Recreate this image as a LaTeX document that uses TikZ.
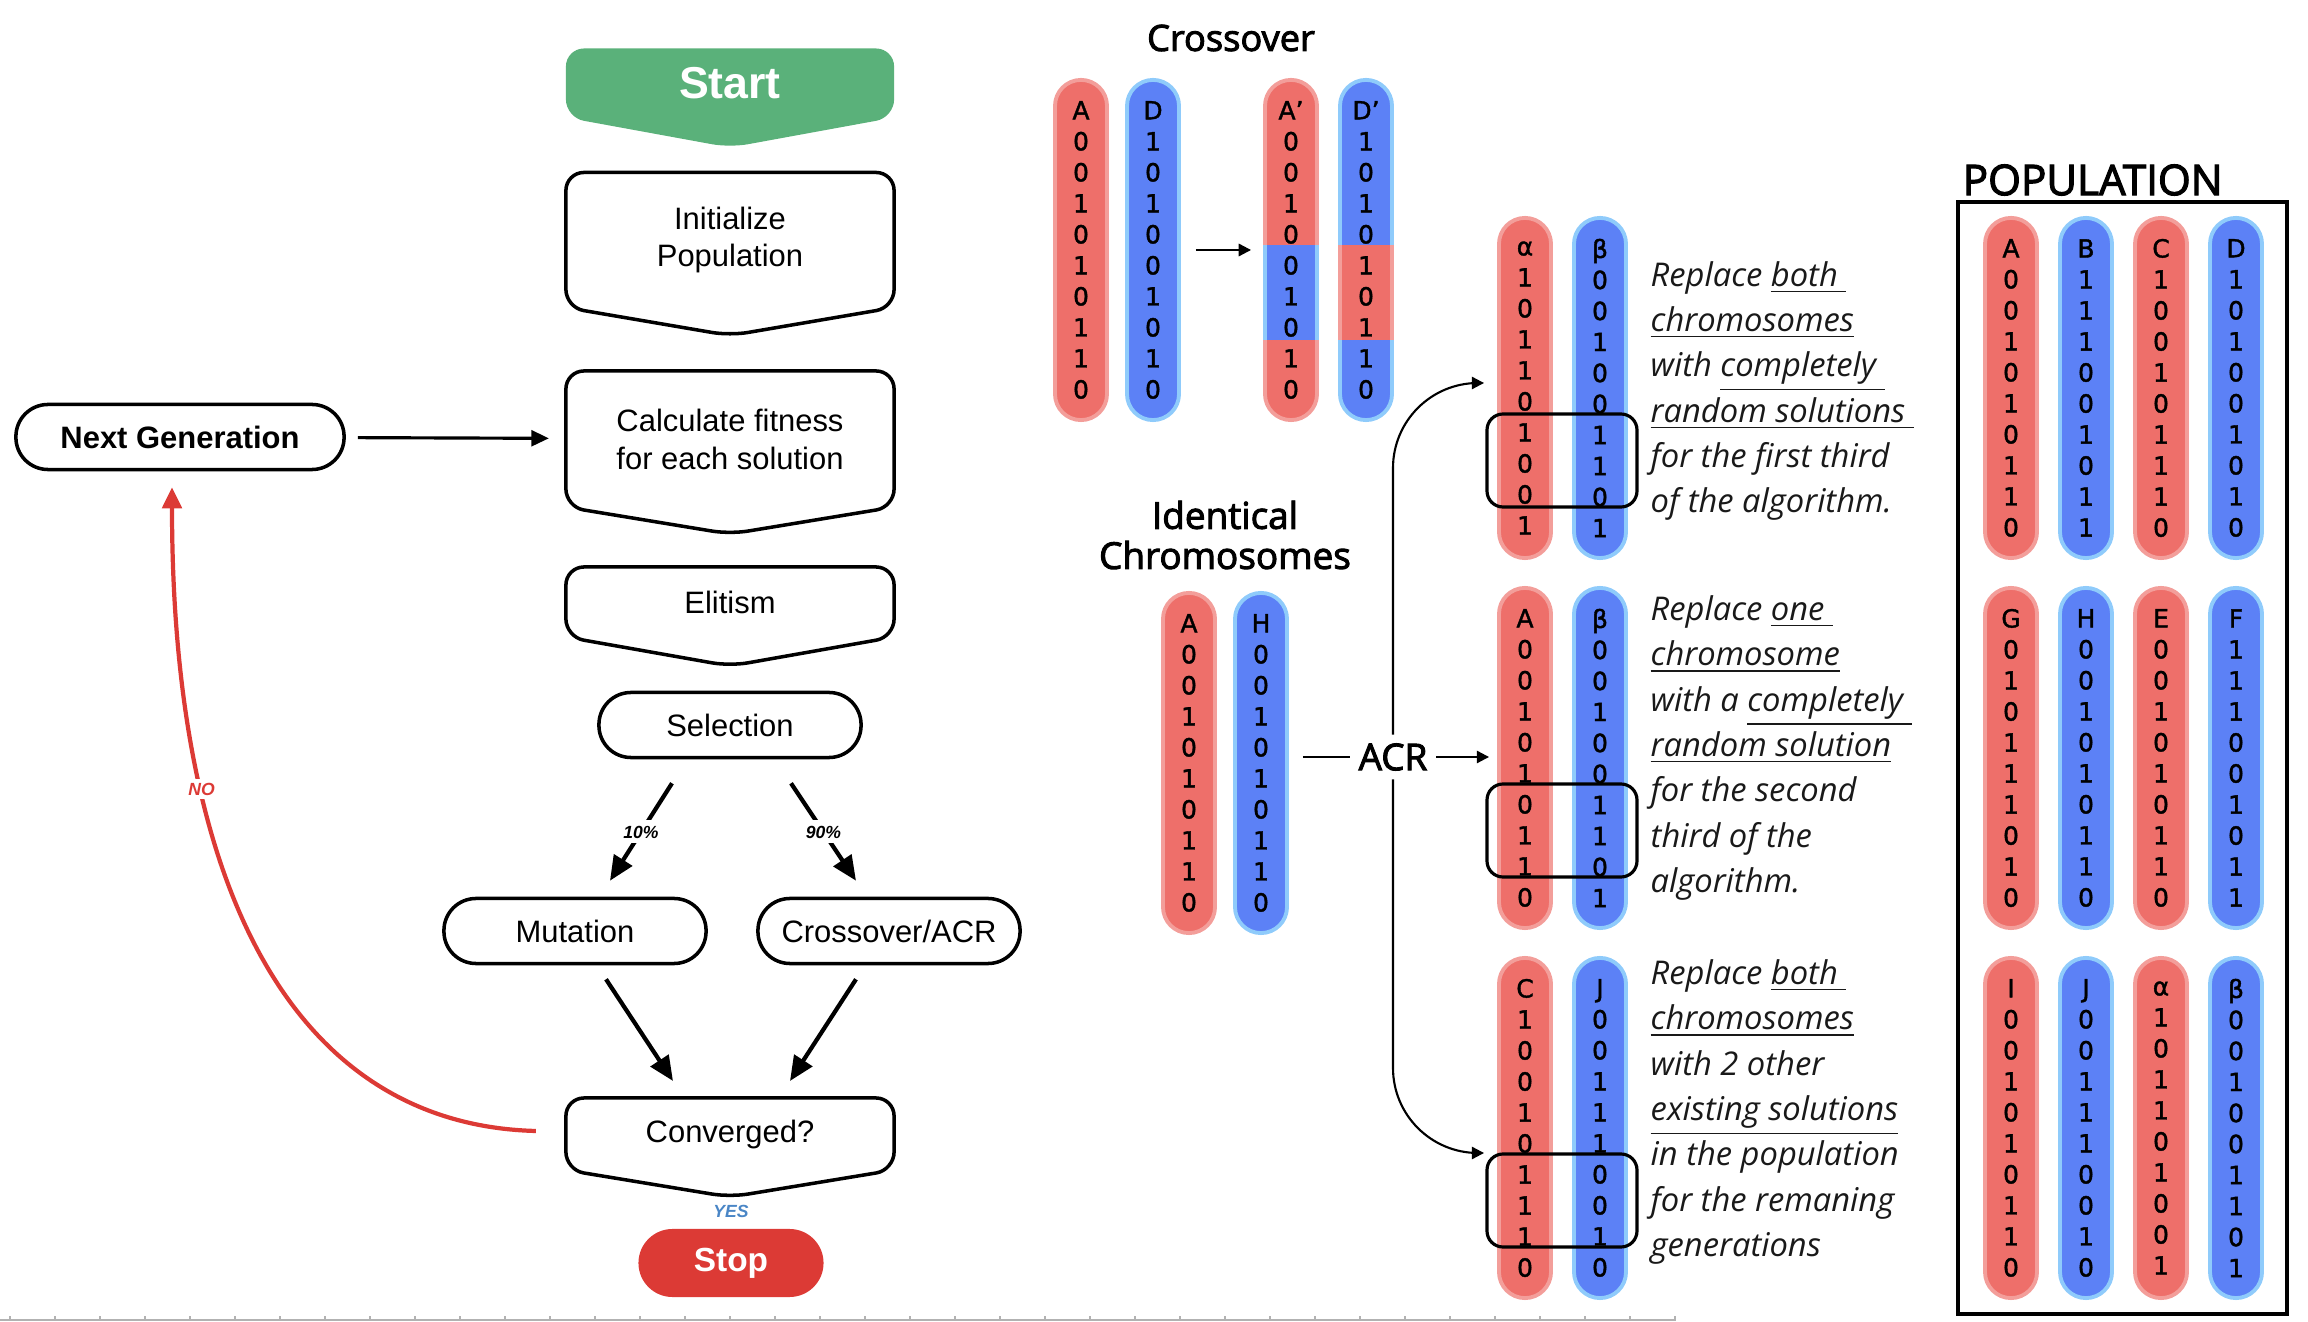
\documentclass[tikz,border=0pt]{standalone}
\usepackage{fontspec}
\setmainfont{Liberation Sans}
\newfontfamily\chromfont[FakeBold=1.5]{DejaVu Sans}
\newfontfamily\headfont[FakeBold=2.6]{Open Sans}
\newfontfamily\notefont{Open Sans}
\usetikzlibrary{arrows.meta,calc,backgrounds}
\definecolor{chromred}{HTML}{EE6F6A}
\definecolor{chromredrim}{HTML}{F39E9A}
\definecolor{chromblue}{HTML}{5C81F6}
\definecolor{chrombluerim}{HTML}{8FCBFB}
\definecolor{startgreen}{HTML}{5AB17A}
\definecolor{stopred}{HTML}{DC3A35}
\definecolor{yesblue}{HTML}{4A86C6}
\newcommand{\genedigits}[9]{#1\\#2\\#3\\#4\\#5\\#6\\#7\\#8\\#9}
\newcommand{\genes}[2]{#1\\\genedigits#2}
\newcommand{\downbox}[3]{\path[#3,rounded corners=0.18cm]
	(#1.north)--(#1.north east)--(#1.south east)--($(#1.south)+(0,#2)$)--
	(#1.south west)--(#1.north west)--cycle;}
\tikzset{
	boxnode/.style={minimum width=3.28cm, inner sep=0pt, outer sep=0pt, align=center,
		font=\fontsize{8.8}{10.8}\selectfont},
	pill/.style={draw, line width=1pt, rounded corners=0.32cm, minimum width=2.62cm,
		minimum height=0.65cm, inner sep=0pt, align=center, font=\fontsize{8.8}{10.8}\selectfont},
	chrom/.style={minimum width=0.52cm, minimum height=3.40cm, rounded corners=0.26cm,
		line width=1.1pt, inner sep=0pt, align=center, font=\chromfont\fontsize{7.1}{8.82}\selectfont},
	redchrom/.style={chrom, fill=chromred, draw=chromredrim},
	bluechrom/.style={chrom, fill=chromblue, draw=chrombluerim},
	flowarrow/.style={line width=1.2pt, -{Triangle[length=7pt,width=6pt]}},
	thinarrow/.style={line width=0.6pt, -{Triangle[length=3.5pt,width=3.5pt]}},
	pct/.style={fill=white, inner sep=1.5pt, font=\bfseries\itshape\fontsize{5}{6}\selectfont},
	cutbox/.style={draw, line width=0.9pt, rounded corners=0.16cm},
	heading/.style={font=\headfont\fontsize{10.3}{11.4}\selectfont},
	note/.style={anchor=west, align=left, inner sep=0pt, text=black!90,
		font=\notefont\itshape\fontsize{9.3}{12.9}\selectfont},
}
\begin{document}
\begin{tikzpicture}[x=0.01cm,y=-0.01cm]
	\useasboundingbox (0,0) rectangle (2308,1322);

	% flow chart
	\node[boxnode, minimum height=0.69cm, text=white, font=\bfseries\fontsize{12.7}{14}\selectfont]
		at (730,83)(start){Start};
	\node[boxnode, minimum height=1.35cm] at (730,240)(init){Initialize\\Population};
	\node[boxnode, minimum height=1.36cm] at (730,439)(calc){Calculate fitness\\for each solution};
	\node[boxnode, minimum height=0.70cm] at (730,602)(elit){Elitism};
	\node[pill] at (730,725)(sel){Selection};
	\node[pill] at (575,931)(mut){Mutation};
	\node[pill] at (889,931)(cross){Crossover/ACR};
	\node[boxnode, minimum height=0.72cm] at (730,1134)(conv){Converged?};
	\node[text=yesblue, font=\bfseries\itshape\fontsize{5}{6}\selectfont] at (731,1211)(yes){YES};
	\node[pill, draw=none, fill=stopred, minimum width=1.85cm, minimum height=0.68cm,
		rounded corners=0.34cm, text=white, font=\bfseries\fontsize{9.5}{11}\selectfont]
		at (731,1263)(stop){Stop};
	\node[pill, minimum width=3.28cm, font=\bfseries\fontsize{8.8}{10}\selectfont]
		at (180,437)(nextgen){Next Generation};
	\begin{scope}[on background layer]
		\downbox{start}{30}{fill=startgreen}
	\end{scope}
	\downbox{init}{28}{draw,line width=1pt}
	\downbox{calc}{27}{draw,line width=1pt}
	\downbox{elit}{29}{draw,line width=1pt}
	\downbox{conv}{27}{draw,line width=1pt}
	\path[flowarrow]
		($(sel.south)+(-58,24)$) edge node[pct]{10\%} ($(mut.north)+(35,-16)$)
		($(sel.south)+(61,24)$) edge node[pct]{90\%} ($(cross.north)+(-33,-16)$)
		($(mut.south)+(31,14)$) edge ($(conv.north)+(-57,-17)$)
		($(cross.south)+(-33,14)$) edge ($(conv.north)+(60,-17)$);
	\path[line width=0.9pt, -{Triangle[length=5pt,width=4.5pt]}]
		(nextgen) edge[shorten <=0.12cm, shorten >=0.17cm] (calc);
	\draw[stopred, line width=1.2pt, -{Triangle[length=6pt,width=5.5pt]}]
		($(conv.west)+(-30,-3)$) .. controls (300,1125) and (172,900) ..
		node[pos=0.72, fill=white, inner sep=1pt, text=stopred,
			font=\bfseries\itshape\fontsize{5}{6}\selectfont]{NO}
		($(nextgen.south)+(-8,16)$);

	% crossover
	\node[heading] at (1231,38)(xtitle){Crossover};
	\node[redchrom] at (1081,250)(xa){\genes{A}{001010110}};
	\node[bluechrom] at (1153,250)(xd){\genes{D}{101001010}};
	\node[redchrom] at (1291,250)(xa2){};
	\node[bluechrom] at (1366,250)(xd2){};
	\fill[chrombluerim] (xa2.west |- 0,245) rectangle (xa2.east |- 0,340);
	\fill[chromblue] ($(xa2.west |- 0,245)+(4,0)$) rectangle ($(xa2.east |- 0,340)+(-4,0)$);
	\fill[chromredrim] (xd2.west |- 0,245) rectangle (xd2.east |- 0,340);
	\fill[chromred] ($(xd2.west |- 0,245)+(4,0)$) rectangle ($(xd2.east |- 0,340)+(-4,0)$);
	\node[chrom] at (xa2){\genes{A’}{001001010}};
	\node[chrom] at (xd2){\genes{D’}{101010110}};
	\path[thinarrow] (xd) edge[shorten <=0.15cm, shorten >=0.12cm] (xa2);

	% identical chromosomes and ACR
	\node[heading, align=center, font=\headfont\fontsize{10.5}{11.4}\selectfont]
		at (1225,535)(idtitle){Identical\\Chromosomes};
	\node[redchrom] at (1189,763)(ia){\genes{A}{001010110}};
	\node[bluechrom] at (1261,763)(ih){\genes{H}{001010110}};
	\node[heading, inner sep=0.08cm, font=\headfont\fontsize{10.5}{12}\selectfont]
		at (1393,757)(acr){ACR};
	\node[redchrom] at (1525,388)(r1a){\genes{α}{101101001}};
	\node[bluechrom] at (1600,388)(r1b){\genes{β}{001001101}};
	\node[redchrom] at (1525,758)(r2a){\genes{A}{001010110}};
	\node[bluechrom] at (1600,758)(r2b){\genes{β}{001001101}};
	\node[redchrom] at (1525,1128)(r3a){\genes{C}{100101110}};
	\node[bluechrom] at (1600,1128)(r3b){\genes{J}{001110010}};
	\foreach \y in {414,784,1154}
		\draw[cutbox] (1487,\y) rectangle (1637,\y+93);
	\draw[line width=0.6pt, shorten <=0.14cm] (ih.east |- acr) -- (acr);
	\draw[thinarrow, shorten >=0.08cm] (acr) -- (r2a.west |- acr);
	\draw[thinarrow, rounded corners=0.85cm] (acr.north) |- ($(r1a.west)+(-13,-5)$);
	\draw[thinarrow, rounded corners=0.85cm] (acr.south) |- ($(r3a.west)+(-13,25)$);

	\node[note] at (1650,391)(n1){Replace \underline{both\ }\\
		\underline{chromosomes}\\
		with \underline{completely\ }\\
		\underline{random solutions\ }\\
		for the first third\\
		of the algorithm.};
	\node[note] at (1650,748)(n2){Replace \underline{one\ }\\
		\underline{chromosome}\\
		with a \underline{completely\ }\\
		\underline{random solution}\\
		for the second\\
		third of the\\
		algorithm.};
	\node[note] at (1650,1112)(n3){Replace \underline{both\ }\\
		\underline{chromosomes}\\
		with 2 other\\
		\underline{existing solutions}\\
		in the population\\
		for the remaning\\
		generations};

	% population
	\node[heading, anchor=west, inner sep=0pt, font=\headfont\fontsize{12}{14}\selectfont]
		at (1962,180)(poptitle){POPULATION};
	\draw[line width=1.1pt] (1958,202) rectangle (2287,1314);
	\node[redchrom] at (2011,388)(pA){\genes{A}{001010110}};
	\node[bluechrom] at (2086,388)(pB){\genes{B}{111001011}};
	\node[redchrom] at (2161,388)(pC){\genes{C}{100101110}};
	\node[bluechrom] at (2236,388)(pD){\genes{D}{101001010}};
	\node[redchrom] at (2011,758)(pG){\genes{G}{010111010}};
	\node[bluechrom] at (2086,758)(pH){\genes{H}{001010110}};
	\node[redchrom] at (2161,758)(pE){\genes{E}{001010110}};
	\node[bluechrom] at (2236,758)(pF){\genes{F}{111001011}};
	\node[redchrom] at (2011,1128)(pI){\genes{I}{001010110}};
	\node[bluechrom] at (2086,1128)(pJ){\genes{J}{001110010}};
	\node[redchrom] at (2161,1128)(pal){\genes{α}{101101001}};
	\node[bluechrom] at (2236,1128)(pbe){\genes{β}{001001101}};

	% ruler at the bottom
	\draw[gray!60, line width=0.3pt] (0,1320) -- (1676,1320);
	\foreach \x in {10,55,...,1675}
		\draw[gray!60, line width=0.3pt] (\x,1320) -- (\x,1316);
\end{tikzpicture}
\end{document}
